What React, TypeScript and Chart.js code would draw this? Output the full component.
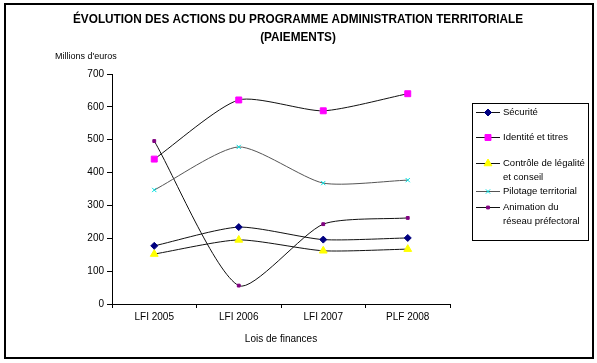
import React, { useEffect, useRef } from "react";
import { Chart, registerables } from "chart.js";
import { drawPoint } from "chart.js/helpers";

Chart.register(...registerables);

const categories = ["LFI 2005", "LFI 2006", "LFI 2007", "PLF 2008"];
const securite = [177, 234, 196, 201];
const identite = [441, 621, 588, 640];
const controle = [152, 195, 162, 167];
const pilotage = [347, 478, 368, 377];
const animation = [496, 56, 243, 262];

const legendLabels = [
  ["Sécurité"],
  ["Identité et titres"],
  ["Contrôle de légalité", "et conseil"],
  ["Pilotage territorial"],
  ["Animation du", "réseau préfectoral"],
];
const titleLines = [
  "ÉVOLUTION DES ACTIONS DU PROGRAMME ADMINISTRATION TERRITORIALE",
  "(PAIEMENTS)",
];
const yUnit = "Millions d'euros";
const xTitle = "Lois de finances";

const FONT = "'Liberation Sans', Arial, sans-serif";

const decorPlugin = {
  id: "decor",
  beforeDraw(chart: any) {
    const ctx = chart.ctx;
    ctx.save();
    ctx.fillStyle = "#fff";
    ctx.fillRect(0, 0, chart.width, chart.height);
    ctx.restore();
  },
  afterDraw(chart: any) {
    const ctx = chart.ctx;
    ctx.save();
    // outer border
    ctx.strokeStyle = "#000";
    ctx.lineWidth = 2;
    ctx.strokeRect(5, 4, 588, 354);

    // title
    ctx.fillStyle = "#000";
    ctx.textAlign = "center";
    ctx.textBaseline = "middle";
    ctx.font = `bold 12px ${FONT}`;
    const w0 = ctx.measureText(titleLines[0]).width;
    const sx = 450 / w0;
    ctx.save();
    ctx.translate(298, 0);
    ctx.scale(sx, 1);
    ctx.fillText(titleLines[0], 0, 20);
    ctx.fillText(titleLines[1], 0, 38);
    ctx.restore();

    // y unit
    ctx.font = `9px ${FONT}`;
    ctx.textAlign = "left";
    ctx.fillText(yUnit, 55, 57);

    // x title
    ctx.font = `10px ${FONT}`;
    ctx.textAlign = "center";
    const ca = chart.chartArea;
    ctx.fillText(xTitle, (ca.left + ca.right) / 2, 339);

    // legend
    ctx.strokeStyle = "#000";
    ctx.lineWidth = 1;
    ctx.strokeRect(472.5, 103.5, 116, 137);
    const rows = [112, 137, 163, 191, 207];
    chart.data.datasets.forEach((ds: any, i: number) => {
      const y = rows[i];
      ctx.strokeStyle = ds.borderColor;
      ctx.lineWidth = 1;
      ctx.beginPath();
      ctx.moveTo(476, y + 0.5);
      ctx.lineTo(500, y + 0.5);
      ctx.stroke();
      ctx.fillStyle = ds.pointBackgroundColor;
      ctx.strokeStyle = ds.pointBorderColor;
      drawPoint(ctx, { pointStyle: ds.pointStyle, radius: ds.pointRadius, rotation: 0, borderWidth: 1 }, 488, y + 0.5);
      ctx.fillStyle = "#000";
      ctx.font = `9.5px ${FONT}`;
      ctx.textAlign = "left";
      ctx.textBaseline = "middle";
      legendLabels[i].forEach((t, j) => ctx.fillText(t, 503, y + j * 14));
    });
    ctx.restore();
  },
};

export default function App() {
  const ref = useRef<HTMLCanvasElement>(null);
  useEffect(() => {
    const mk = (data: number[], color: string, style: string, r: number, line = "#111") => ({
      data,
      borderColor: line,
      borderWidth: 1,
      tension: 0.22,
      pointStyle: style,
      pointRadius: r,
      pointBackgroundColor: color,
      pointBorderColor: color,
      pointBorderWidth: 1,
    });
    const chart = new Chart(ref.current!, {
      type: "line",
      data: {
        labels: categories,
        datasets: [
          { label: legendLabels[0].join(" "), ...mk(securite, "#000080", "rectRot", 3.5) },
          { label: legendLabels[1].join(" "), ...mk(identite, "#FF00FF", "rect", 4.2) },
          { label: legendLabels[2].join(" "), ...mk(controle, "#FFFF00", "triangle", 4.5) },
          { label: legendLabels[3].join(" "), ...mk(pilotage, "#00E0E0", "crossRot", 3, "#555") },
          { label: legendLabels[4].join(" "), ...mk(animation, "#800080", "rect", 2) },
        ] as any,
      },
      options: {
        responsive: false,
        animation: false,
        layout: { padding: { left: 0, top: 74, right: 147, bottom: 19 } },
        plugins: { legend: { display: false }, title: { display: false }, tooltip: { enabled: false } },
        scales: {
          x: {
            offset: true,
            grid: { offset: true, drawOnChartArea: false, drawTicks: true, tickLength: 4, color: "#000" },
            border: { display: true, color: "#000", width: 1 },
            ticks: { color: "#000", font: { family: FONT, size: 10 }, padding: 3, maxRotation: 0 },
            afterFit: (s: any) => { s.height = 40; },
          },
          y: {
            min: 0,
            max: 700,
            ticks: { stepSize: 100, color: "#000", font: { family: FONT, size: 10 }, padding: 3 },
            grid: { drawOnChartArea: false, drawTicks: true, tickLength: 5, color: "#000" },
            border: { display: true, color: "#000", width: 1 },
            afterFit: (s: any) => { s.width = 112; },
          },
        },
      },
      plugins: [decorPlugin],
    });
    return () => chart.destroy();
  }, []);
  return (
    <div style={{ position: "absolute", left: 0, top: 0, width: 597, height: 363 }}>
      <canvas ref={ref} width={597} height={363} />
    </div>
  );
}
